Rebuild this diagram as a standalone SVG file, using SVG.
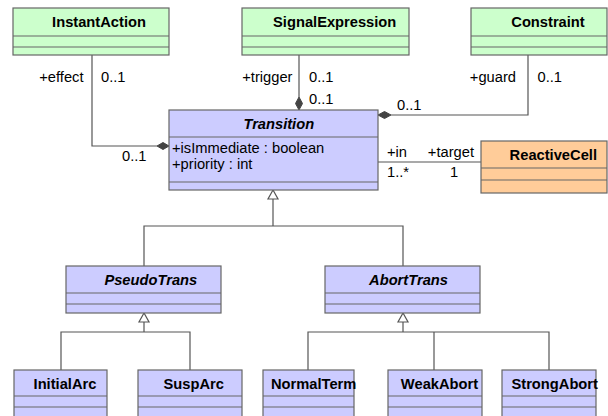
<svg xmlns="http://www.w3.org/2000/svg" width="608" height="416" viewBox="0 0 608 416">
<defs>
<style>
.box{stroke:#666;stroke-width:1.2}
.g{fill:#ccffcc}
.b{fill:#ccccff}
.o{fill:#ffcc99}
.sep{stroke:#666;stroke-width:1.2}
.h{font-family:"Liberation Sans",Arial,sans-serif;font-size:14.7px;font-weight:bold;fill:#000;text-anchor:middle}
.hi{font-style:italic}
.t{font-family:"Liberation Sans",Arial,sans-serif;font-size:14.7px;fill:#000}
.c{fill:none;stroke:#555;stroke-width:1.2}
.dia{fill:#444;stroke:#444;stroke-width:1}
.tri{fill:#fff;stroke:#555;stroke-width:1.2}
</style>
</defs>
<rect width="608" height="416" fill="#fff"/>

<g id="connectors">
<polyline class="c" points="92,55 92,146 157,146"/>
<polygon class="dia" points="169,146 163,142.5 157,146 163,149.5"/>
<polyline class="c" points="299,55 299,97"/>
<polygon class="dia" points="299,110 295.5,103.5 299,97 302.5,103.5"/>
<polyline class="c" points="528,55 528,115 391,115"/>
<polygon class="dia" points="378,115 384.5,111.5 391,115 384.5,118.5"/>
<line class="c" x1="378" y1="162" x2="481" y2="162"/>
<polyline class="c" points="273,199 273,226"/>
<polyline class="c" points="144,266 144,226 403,226 403,266"/>
<polygon class="tri" points="273,190 268,199 278,199"/>
<polyline class="c" points="144,322 144,332"/>
<polyline class="c" points="61,370 61,332 190,332 190,370"/>
<polygon class="tri" points="144,313 139,322 149,322"/>
<polyline class="c" points="403,322 403,332"/>
<polyline class="c" points="308,370 308,332 549,332 549,370"/>
<line class="c" x1="434" y1="332" x2="434" y2="370"/>
<polygon class="tri" points="403,313 398,322 408,322"/>
<text class="t" x="83.5" y="82" text-anchor="end">+effect</text>
<text class="t" x="101" y="82">0..1</text>
<text class="t" x="122" y="161">0..1</text>
<text class="t" x="292.5" y="82" text-anchor="end">+trigger</text>
<text class="t" x="309" y="82">0..1</text>
<text class="t" x="309" y="104">0..1</text>
<text class="t" x="397" y="109.5">0..1</text>
<text class="t" x="516" y="82" text-anchor="end">+guard</text>
<text class="t" x="537.5" y="82">0..1</text>
<text class="t" x="387" y="157">+in</text>
<text class="t" x="474" y="157" text-anchor="end">+target</text>
<text class="t" x="387" y="177">1..*</text>
<text class="t" x="450" y="177">1</text>
</g>

<g id="InstantAction">
<rect class="box g" x="13" y="8" width="156" height="47"/>
<line class="sep" x1="13" y1="36" x2="169" y2="36"/>
<line class="sep" x1="13" y1="47" x2="169" y2="47"/>
<text class="h" x="99" y="27">InstantAction</text>
</g>
<g id="SignalExpression">
<rect class="box g" x="242" y="8" width="167" height="47"/>
<line class="sep" x1="242" y1="36" x2="409" y2="36"/>
<line class="sep" x1="242" y1="47" x2="409" y2="47"/>
<text class="h" x="334.7" y="27">SignalExpression</text>
</g>
<g id="Constraint">
<rect class="box g" x="471" y="8" width="136" height="47"/>
<line class="sep" x1="471" y1="36" x2="607" y2="36"/>
<line class="sep" x1="471" y1="47" x2="607" y2="47"/>
<text class="h" x="548" y="27">Constraint</text>
</g>
<g id="Transition">
<rect class="box b" x="169" y="110" width="209" height="80"/>
<line class="sep" x1="169" y1="137" x2="378" y2="137"/>
<line class="sep" x1="169" y1="182" x2="378" y2="182"/>
<text class="h hi" x="278.8" y="128.5">Transition</text>
<text class="t" x="172" y="152.5">+isImmediate : boolean</text>
<text class="t" x="172" y="169">+priority : int</text>
</g>
<g id="ReactiveCell">
<rect class="box o" x="481" y="141" width="126" height="52"/>
<line class="sep" x1="481" y1="168" x2="607" y2="168"/>
<line class="sep" x1="481" y1="180" x2="607" y2="180"/>
<text class="h" x="553.3" y="159.5">ReactiveCell</text>
</g>
<g id="PseudoTrans">
<rect class="box b" x="66" y="266" width="155" height="47"/>
<line class="sep" x1="66" y1="293" x2="221" y2="293"/>
<line class="sep" x1="66" y1="304" x2="221" y2="304"/>
<text class="h hi" x="150.8" y="284.5">PseudoTrans</text>
</g>
<g id="AbortTrans">
<rect class="box b" x="325" y="266" width="155" height="47"/>
<line class="sep" x1="325" y1="293" x2="480" y2="293"/>
<line class="sep" x1="325" y1="304" x2="480" y2="304"/>
<text class="h hi" x="408.5" y="284.5">AbortTrans</text>
</g>
<g id="InitialArc">
<rect class="box b" x="14" y="370" width="93" height="55"/>
<line class="sep" x1="14" y1="396" x2="107" y2="396"/>
<line class="sep" x1="14" y1="407" x2="107" y2="407"/>
<text class="h" x="65" y="388.5">InitialArc</text>
</g>
<g id="SuspArc">
<rect class="box b" x="138" y="370" width="104" height="55"/>
<line class="sep" x1="138" y1="396" x2="242" y2="396"/>
<line class="sep" x1="138" y1="407" x2="242" y2="407"/>
<text class="h" x="193.7" y="388.5">SuspArc</text>
</g>
<g id="NormalTerm">
<rect class="box b" x="263" y="370" width="91" height="55"/>
<line class="sep" x1="263" y1="396" x2="354" y2="396"/>
<line class="sep" x1="263" y1="407" x2="354" y2="407"/>
<text class="h" x="313.7" y="388.5">NormalTerm</text>
</g>
<g id="WeakAbort">
<rect class="box b" x="388" y="370" width="94" height="55"/>
<line class="sep" x1="388" y1="396" x2="482" y2="396"/>
<line class="sep" x1="388" y1="407" x2="482" y2="407"/>
<text class="h" x="439.5" y="388.5">WeakAbort</text>
</g>
<g id="StrongAbort">
<rect class="box b" x="502" y="370" width="94" height="55"/>
<line class="sep" x1="502" y1="396" x2="596" y2="396"/>
<line class="sep" x1="502" y1="407" x2="596" y2="407"/>
<text class="h" x="554.7" y="388.5">StrongAbort</text>
</g>
</svg>
